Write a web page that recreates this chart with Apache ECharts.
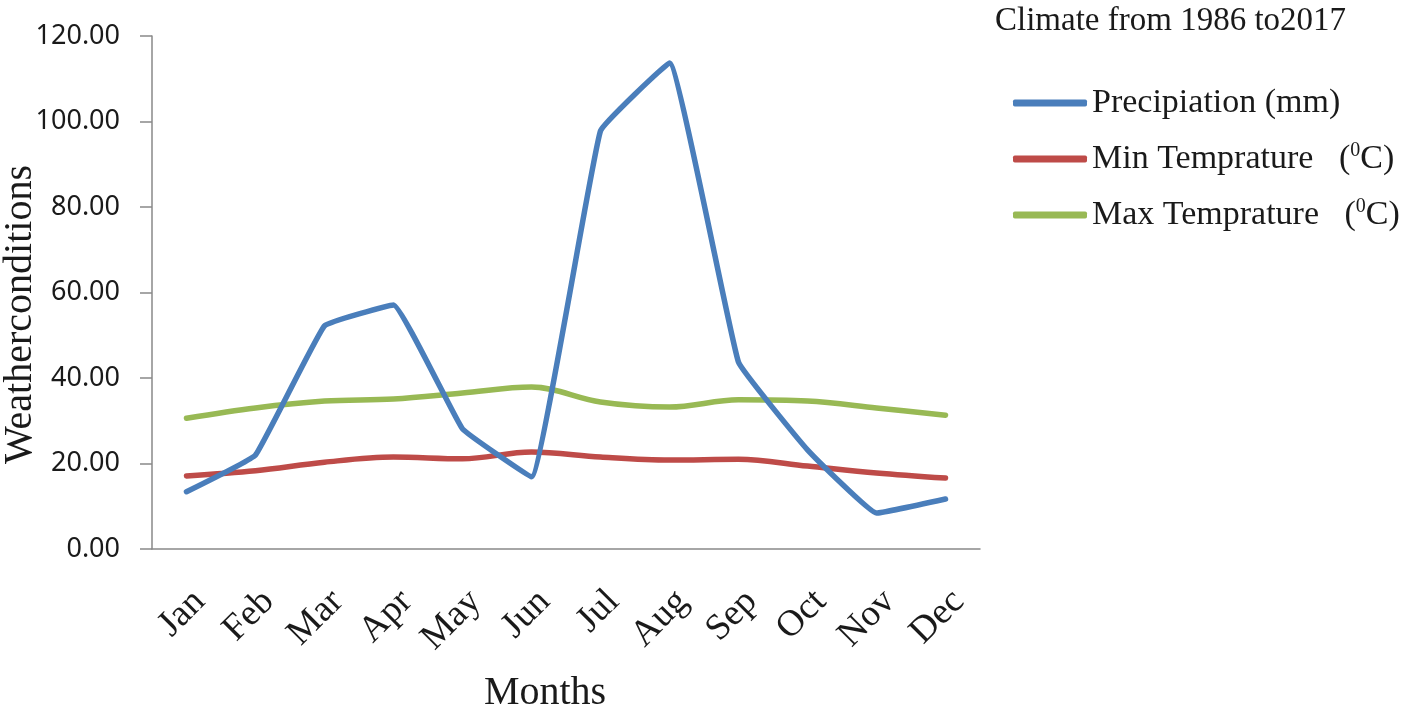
<!DOCTYPE html>
<html>
<head>
<meta charset="utf-8">
<script src="https://cdn.jsdelivr.net/npm/echarts@6/dist/echarts.min.js"></script>
<style>
html,body{margin:0;padding:0;background:#fff;}
#main{width:1418px;height:707px;}
</style>
</head>
<body>
<div id="main"></div>
<script>
var months = ['Jan','Feb','Mar','Apr','May','Jun','Jul','Aug','Sep','Oct','Nov','Dec'];
var precipitation = [13.4, 22.0, 52.2, 57.1, 28.1, 16.9, 97.8, 113.7, 43.7, 23.2, 8.4, 11.7];
var minTemp = [17.1, 18.3, 20.3, 21.5, 21.1, 22.7, 21.5, 20.8, 21.0, 19.4, 17.8, 16.6];
var maxTemp = [30.6, 33.0, 34.6, 35.1, 36.5, 37.9, 34.4, 33.2, 34.9, 34.6, 33.0, 31.3];
var seriesNames = ['Precipiation (mm)', 'Min Temprature', 'Max Temprature'];
var titleText = 'Climate from 1986 to2017';

var serif = '"Liberation Serif", "DejaVu Serif", serif';
var sans = '"Noto Sans", "Liberation Sans", sans-serif';
var axisGray = '#898989';

var chart = echarts.init(document.getElementById('main'));
chart.setOption({
  backgroundColor: '#ffffff',
  animation: false,
  title: {
    text: titleText,
    left: 990,
    top: 0,
    textStyle: {fontFamily: serif, fontSize: 33, fontWeight: 'normal', color: '#1a1a1a'}
  },
  legend: {
    orient: 'vertical',
    left: 1008,
    top: 80,
    itemWidth: 74,
    itemHeight: 7,
    itemGap: 20,
    icon: 'roundRect',
    data: seriesNames,
    formatter: function (name) {
      if (name === seriesNames[0]) return name;
      return name + '   ({sup|0}C)';
    },
    textStyle: {
      fontFamily: serif, fontSize: 34, color: '#1a1a1a', lineHeight: 36,
      rich: {
        sup: {fontFamily: serif, fontSize: 20, color: '#1a1a1a', verticalAlign: 'top', lineHeight: 36}
      }
    }
  },
  grid: {left: 152, right: 438, top: 36, bottom: 158, containLabel: false, outerBoundsMode: 'none'},
  xAxis: {
    type: 'category',
    data: months,
    boundaryGap: true,
    name: 'Months',
    nameLocation: 'middle',
    nameGap: 124,
    nameMoveOverlap: false,
    nameTextStyle: {fontFamily: serif, fontSize: 40, color: '#1a1a1a', verticalAlign: 'top', padding: [0, 42, 0, 0]},
    axisLine: {lineStyle: {color: axisGray, width: 1.5}},
    axisTick: {show: false},
    axisLabel: {
      rotate: 45, interval: 0, margin: 34,
      verticalAlign: 'top',
      fontFamily: serif, fontSize: 37, color: '#1a1a1a'
    },
    splitLine: {show: false}
  },
  yAxis: {
    type: 'value',
    min: 0, max: 120, interval: 20,
    name: 'Weatherconditions',
    nameLocation: 'middle',
    nameGap: 112,
    nameMoveOverlap: false,
    nameTextStyle: {fontFamily: serif, fontSize: 40, color: '#1a1a1a', padding: [0, 44, 0, 0]},
    axisLine: {show: true, lineStyle: {color: axisGray, width: 1.5}},
    axisTick: {show: true, length: 12, lineStyle: {color: axisGray, width: 1.5}},
    axisLabel: {
      margin: 32,
      fontFamily: sans, fontSize: 27, color: '#1a1a1a',
      formatter: function (v) { return v.toFixed(2); }
    },
    splitLine: {show: false}
  },
  series: [
    {
      name: seriesNames[0], type: 'line', data: precipitation,
      showSymbol: false, symbol: 'none', smooth: 0.08,
      lineStyle: {color: '#4a7ebb', width: 5.5, cap: 'round', join: 'round'},
      itemStyle: {color: '#4a7ebb'}, z: 3
    },
    {
      name: seriesNames[1], type: 'line', data: minTemp,
      showSymbol: false, symbol: 'none', smooth: 0.35,
      lineStyle: {color: '#be4b48', width: 5.5, cap: 'round', join: 'round'},
      itemStyle: {color: '#be4b48'}, z: 2
    },
    {
      name: seriesNames[2], type: 'line', data: maxTemp,
      showSymbol: false, symbol: 'none', smooth: 0.35,
      lineStyle: {color: '#98b954', width: 5.5, cap: 'round', join: 'round'},
      itemStyle: {color: '#98b954'}, z: 2
    }
  ]
});
</script>
</body>
</html>
